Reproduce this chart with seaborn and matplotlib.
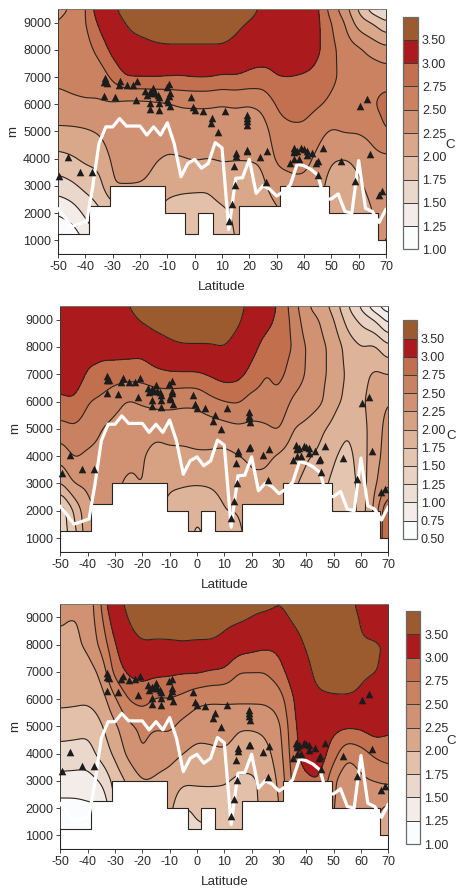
import numpy as np
import pandas as pd
import matplotlib
matplotlib.use("Agg")
import matplotlib.pyplot as plt
import seaborn as sns

W, H = 457, 888
lats = [-50,-45,-40,-35,-30,-25,-20,-15,-10,-5,0,5,10,15,20,25,30,35,40,45,50,55,60,65,70]
heights = [1000,2000,3000,4000,5000,6000,7000,8000,9000,9500]

# each row: one latitude, temperature (C) at the heights above
temp_a = [
[1.10,1.25,1.63,1.92,2.20,2.42,2.55,2.60,2.50,2.42],
[1.05,1.35,1.70,1.97,2.20,2.45,2.58,2.62,2.62,2.52],
[1.30,1.55,1.82,2.05,2.22,2.47,2.60,2.65,2.72,2.72],
[1.50,1.70,1.90,2.08,2.27,2.47,2.60,2.82,3.05,3.20],
[1.60,1.85,2.25,2.30,2.38,2.47,2.80,3.08,3.30,3.40],
[1.70,1.90,2.25,2.33,2.40,2.42,3.00,3.30,3.52,3.70],
[1.75,1.95,2.24,2.34,2.40,2.42,3.00,3.30,3.70,3.80],
[1.80,2.00,2.20,2.27,2.38,2.44,3.00,3.40,3.75,3.90],
[1.80,1.90,2.08,2.23,2.33,2.47,2.98,3.42,3.80,3.90],
[1.85,1.88,2.05,2.24,2.35,2.52,2.97,3.42,3.80,3.90],
[1.80,1.88,2.04,2.27,2.38,2.52,3.00,3.42,3.80,3.90],
[1.85,1.90,2.03,2.25,2.38,2.52,3.00,3.42,3.80,3.90],
[1.85,1.95,2.12,2.27,2.38,2.50,2.95,3.42,3.80,3.90],
[2.02,2.04,2.12,2.26,2.38,2.52,2.97,3.35,3.62,3.80],
[2.05,2.05,2.13,2.26,2.37,2.50,2.93,3.17,3.47,3.65],
[2.10,2.10,2.20,2.28,2.38,2.55,2.90,3.15,3.35,3.42],
[2.20,2.20,2.38,2.55,2.65,2.78,3.00,3.10,3.25,3.30],
[2.30,2.35,2.45,2.56,2.70,2.85,3.00,3.15,3.30,3.40],
[2.40,2.40,2.45,2.57,2.70,2.85,2.97,3.20,3.35,3.40],
[2.30,2.30,2.38,2.45,2.58,2.78,2.92,3.05,3.05,3.03],
[2.10,2.10,2.12,2.27,2.47,2.70,2.80,2.82,2.75,2.62],
[2.05,2.05,2.15,2.24,2.52,2.66,2.68,2.63,2.50,2.35],
[2.10,2.05,2.20,2.30,2.52,2.58,2.62,2.55,2.12,1.95],
[2.30,2.25,2.35,2.43,2.57,2.72,2.68,2.42,2.00,1.60],
[2.55,2.40,2.42,2.45,2.76,2.85,2.65,2.33,1.78,1.45],
]
temp_b = [
[1.35,1.30,1.98,2.33,2.65,2.95,3.12,3.20,3.30,3.35],
[1.60,1.78,2.27,2.53,2.72,2.97,3.20,3.25,3.30,3.35],
[2.20,2.20,2.30,2.45,2.63,2.76,2.95,3.15,3.30,3.35],
[2.30,2.30,2.38,2.43,2.50,2.70,2.92,3.08,3.30,3.35],
[2.30,2.30,2.30,2.38,2.42,2.57,2.87,3.12,3.30,3.38],
[2.15,2.15,2.20,2.30,2.40,2.47,2.85,3.12,3.40,3.50],
[2.15,2.15,2.27,2.27,2.33,2.53,2.85,3.10,3.55,3.65],
[2.10,2.10,2.12,2.18,2.30,2.58,2.92,3.25,3.70,3.80],
[2.00,1.90,2.04,2.20,2.33,2.58,2.95,3.40,3.75,3.85],
[1.85,1.88,2.02,2.20,2.33,2.55,2.95,3.45,3.85,3.90],
[1.70,1.75,2.02,2.22,2.35,2.55,2.95,3.45,3.85,3.90],
[1.80,1.90,2.02,2.22,2.35,2.68,3.03,3.45,3.85,3.90],
[2.00,2.00,2.05,2.18,2.40,2.75,3.12,3.50,3.90,3.95],
[1.90,2.00,2.08,2.24,2.45,2.78,3.08,3.25,3.60,3.70],
[2.15,2.15,2.20,2.30,2.43,2.65,2.92,3.10,3.20,3.30],
[2.20,2.20,2.20,2.30,2.45,2.68,2.73,2.90,3.10,3.20],
[2.05,2.05,2.12,2.22,2.53,2.70,2.82,2.88,2.93,2.95],
[2.00,2.00,2.03,2.12,2.25,2.45,2.65,2.75,2.70,2.65],
[1.90,1.90,1.95,2.02,2.18,2.40,2.48,2.48,2.35,2.27],
[1.80,1.80,1.85,1.96,2.05,2.30,2.32,2.32,2.25,2.15],
[1.70,1.60,1.68,1.78,1.93,2.08,2.17,2.17,2.02,1.90],
[1.60,1.55,1.58,1.65,1.76,1.93,1.95,1.90,1.65,1.52],
[1.90,1.85,1.85,1.88,1.90,1.93,1.90,1.75,1.43,1.20],
[2.40,2.30,2.22,2.15,2.12,2.15,2.05,1.80,1.25,0.80],
[3.05,3.10,2.45,2.38,2.35,2.25,2.00,1.55,0.90,0.55],
]
temp_c = [
[1.10,1.15,1.42,1.65,1.88,2.06,2.12,2.20,2.28,2.35],
[1.10,1.15,1.42,1.63,1.87,2.05,2.14,2.20,2.24,2.40],
[1.10,1.20,1.40,1.63,1.83,2.04,2.13,2.29,2.32,2.32],
[1.20,1.20,1.52,1.85,1.97,2.12,2.31,2.57,2.70,2.75],
[1.70,1.80,1.85,2.05,2.20,2.47,2.85,2.98,3.20,3.35],
[1.90,1.95,2.05,2.32,2.45,2.77,3.05,3.30,3.53,3.60],
[2.00,2.05,2.25,2.52,2.55,2.85,3.10,3.45,3.80,3.85],
[2.05,2.10,2.22,2.35,2.52,2.72,3.07,3.42,3.80,3.90],
[2.00,2.10,2.17,2.33,2.55,2.74,3.05,3.43,3.80,3.90],
[1.60,1.72,2.05,2.25,2.42,2.68,3.02,3.45,3.85,3.95],
[1.70,1.80,2.05,2.18,2.35,2.56,3.03,3.42,3.85,3.95],
[1.70,1.82,2.05,2.20,2.35,2.53,2.97,3.42,3.85,3.95],
[1.80,1.85,2.03,2.22,2.38,2.53,2.95,3.35,3.65,3.72],
[1.80,1.90,1.95,2.15,2.27,2.55,2.75,3.15,3.60,3.70],
[1.90,1.95,1.95,2.12,2.27,2.55,2.75,3.10,3.50,3.60],
[2.05,2.05,2.08,2.17,2.30,2.55,2.75,3.05,3.42,3.60],
[2.20,2.20,2.27,2.36,2.43,2.62,2.88,3.07,3.40,3.50],
[2.75,2.75,2.83,2.88,2.92,2.97,3.15,3.35,3.55,3.60],
[2.90,2.90,2.95,3.15,3.20,3.30,3.35,3.53,3.65,3.70],
[2.80,2.80,3.00,3.15,3.20,3.40,3.70,3.85,3.90,3.90],
[2.50,2.50,2.55,2.85,3.08,3.43,3.80,3.90,3.95,3.95],
[2.30,2.30,2.28,2.55,3.03,3.47,3.65,3.85,3.90,3.80],
[2.50,2.50,2.45,2.65,3.05,3.45,3.55,3.55,3.40,3.25],
[2.30,2.30,2.50,2.80,3.15,3.30,3.52,3.55,3.25,3.20],
[2.00,2.20,2.55,2.88,3.05,3.20,3.42,3.45,3.10,3.02],
]

terrain_lat = [-50,-38.8,-31,-10.8,-3.4,1.3,6.7,16.3,31.3,49.3,66.9,70]
terrain_m   = [1250,2250,3000,2000,1250,2000,1250,2250,3000,2000,1000,1000]

line_lat = [-50,-45,-39.5,-37.3,-35,-32.5,-30,-27.5,-25,-20,-17.5,-15,-12.5,-10,-7.5,-5,-2.5,0,2.5,5,7.5,10,12.5,15,17.5,20,22.5,25,27.5,30,32.5,35,37.5,40,42.5,45,47.5,50,52.5,55,57.5,60,62.5,65,67.5,70]
line_m   = [2170,1510,1700,2975,4560,5170,5170,5475,5200,5200,4870,5170,4870,5320,4560,3340,3830,3975,3650,3830,4590,4400,1400,3280,3300,3975,2730,3010,2880,2630,2790,3040,3800,3740,3610,3400,2520,2520,2710,2060,2000,3930,2180,2060,1660,2150]

stn_lat = [-33,-32.8,-32.2,-27.7,-27.2,-24.7,-22.7,-21,-18,-17.5,-16.5,-15.7,-15.1,-14.5,-13.5,-13,-16.3,-16.3,-13,-13,-10.3,-9.3,-9,-9.3,-10,-9.7,-8.9,-33,-29,-21.5,-1.5,-0.7,0,3,6.5,6,8.7,11,19.1,19.2,19.2,19.3,15,15,14.4,14.8,13.7,12.5,19.3,19.1,24,26.5,26,36.2,36.5,36.5,37.5,39,40,41,41,43,36.5,38,35,44.5,45,45.3,46.8,53.5,58.7,60.5,63,64,67.5,68.7,-46.5,-42,-37.5,-49.5]
stn_m = [6800,6950,6780,6720,6850,6700,6720,6850,6500,6350,6450,6400,6600,6400,6350,6250,6050,5820,5800,6050,6650,6750,6400,6300,6150,6100,5920,6300,6260,6160,6250,5900,5780,5750,5500,5300,4980,5770,5600,5480,5380,5250,4200,4100,3750,3030,2350,1720,4320,4300,4050,4280,3130,4400,4300,4250,4300,4380,4350,4300,4120,4200,4000,4000,3850,3850,3900,3420,4380,3930,3180,5950,6180,4180,2680,2800,4050,3530,3530,3370]

levels_a = [1.0,1.25,1.5,1.75,2.0,2.25,2.5,2.75,3.0,3.5,4.5]
levels_b = [0.5,0.75,1.0,1.25,1.5,1.75,2.0,2.25,2.5,2.75,3.0,3.5,4.5]
colors_a = ['#FBFCFD','#F3ECE8','#EBD8CC','#E3C0AA','#D9A88B','#D09272','#CA8261','#C2704F','#AB1A1C','#9C5B2E']
colors_b = ['#FBFCFD','#F3ECE8','#EEDFD5','#E9D2C3','#E4C5B0','#DDB399','#D6A283','#D09272','#C98261','#C16F4D','#AB1A1C','#9C5B2E']

sns.set_theme(style="ticks")
plt.rcParams['font.family'] = ['Liberation Sans', 'DejaVu Sans']
plt.rcParams['axes.unicode_minus'] = False
INK = '#2b2b2b'

def soften(lat, hgt, z):
    """Resample the read grid finely and round its corners for contouring."""
    z = np.asarray(z, float)
    fx = np.linspace(lat[0], lat[-1], 241)
    fy = np.linspace(hgt[0], hgt[-1], 171)
    a = np.array([np.interp(fx, lat, z[:, j]) for j in range(z.shape[1])])
    b = np.array([np.interp(fy, hgt, a[:, i]) for i in range(a.shape[1])]).T
    def blur(m, n, axis):
        k = np.ones(n) / n
        pad = [(n//2, n//2) if ax == axis else (0, 0) for ax in (0, 1)]
        p = np.pad(m, pad, mode='edge')
        return np.apply_along_axis(lambda v: np.convolve(v, k, mode='valid'), axis, p)
    for _ in range(2):
        b = blur(b, 7, 0)
        b = blur(b, 7, 1)
    return fx, fy, b

fig = plt.figure(figsize=(W/100, H/100), dpi=100)

def rect(x0, y0, x1, y1):
    return [x0/W, 1-y1/H, (x1-x0)/W, (y1-y0)/H]

stations = pd.DataFrame({'lat': stn_lat, 'm': stn_m})
isoline = pd.DataFrame({'lat': line_lat, 'm': line_m})

panels = [
    (temp_a, levels_a, colors_a, (58, 9, 386, 254), (402.7, 16.7, 417.7, 249.3), 450, 145),
    (temp_b, levels_b, colors_b, (60.3, 306, 388.3, 551.7), (402.7, 320.3, 416.7, 538.7), 451, 436),
    (temp_c, levels_a, colors_a, (60.3, 603.7, 388.3, 849), (405.7, 611, 420, 844), 451, 741),
]

for temp, levels, colors, box, cbox, cx, cy in panels:
    ax = fig.add_axes(rect(*box))
    fx, fy, z = soften(lats, heights, temp)
    z = np.clip(z, levels[0]+1e-3, levels[-1]-1e-3)
    cf = ax.contourf(fx, fy, z, levels=levels, colors=colors, zorder=1)
    ax.contour(fx, fy, z, levels=levels[1:-1], colors='#2a2420', linewidths=0.8, zorder=2)
    ax.fill_between(terrain_lat, 500, terrain_m, step='post', facecolor='white',
                    edgecolor='#2a2420', linewidth=0.8, zorder=3)
    sns.lineplot(data=isoline, x='lat', y='m', sort=False, estimator=None, color='white',
                 linewidth=2.3, ax=ax, zorder=4)
    sns.scatterplot(data=stations, x='lat', y='m', marker='^', s=30, color='#1c1c1c',
                    linewidth=0, ax=ax, zorder=5, clip_on=False)
    ax.set_xlim(-50, 70)
    ax.set_ylim(500, 9500)
    ax.set_xticks(range(-50, 71, 10))
    ax.set_yticks(range(1000, 9001, 1000))
    ax.tick_params(length=3, width=0.7, color='#444444', labelsize=9, labelcolor=INK, pad=2)
    ax.set_xlabel('Latitude', fontsize=9.6, color=INK, labelpad=6)
    ax.set_ylabel('m', fontsize=9.6, color=INK, labelpad=3)
    for s in ('left', 'bottom', 'right'):
        ax.spines[s].set_linewidth(0.7)
        ax.spines[s].set_color('#3a3a3a')
    ax.spines['top'].set_linewidth(0.7)
    ax.spines['top'].set_color('#777777')

    cax = fig.add_axes(rect(*cbox))
    cb = fig.colorbar(cf, cax=cax, spacing='uniform', ticks=levels[:-1], drawedges=True)
    cb.ax.set_yticklabels([f'{v:.2f}' for v in levels[:-1]])
    cb.ax.tick_params(length=0, labelsize=9, labelcolor=INK, pad=3)
    cb.outline.set_edgecolor('#6a6a6a')
    cb.outline.set_linewidth(0.9)
    cb.dividers.set_color('#3a3a3a')
    cb.dividers.set_linewidth(0.7)
    fig.text(cx/W, 1-cy/H, 'C', fontsize=9.6, color=INK, ha='center', va='center')

fig.savefig('out.png', dpi=100)
